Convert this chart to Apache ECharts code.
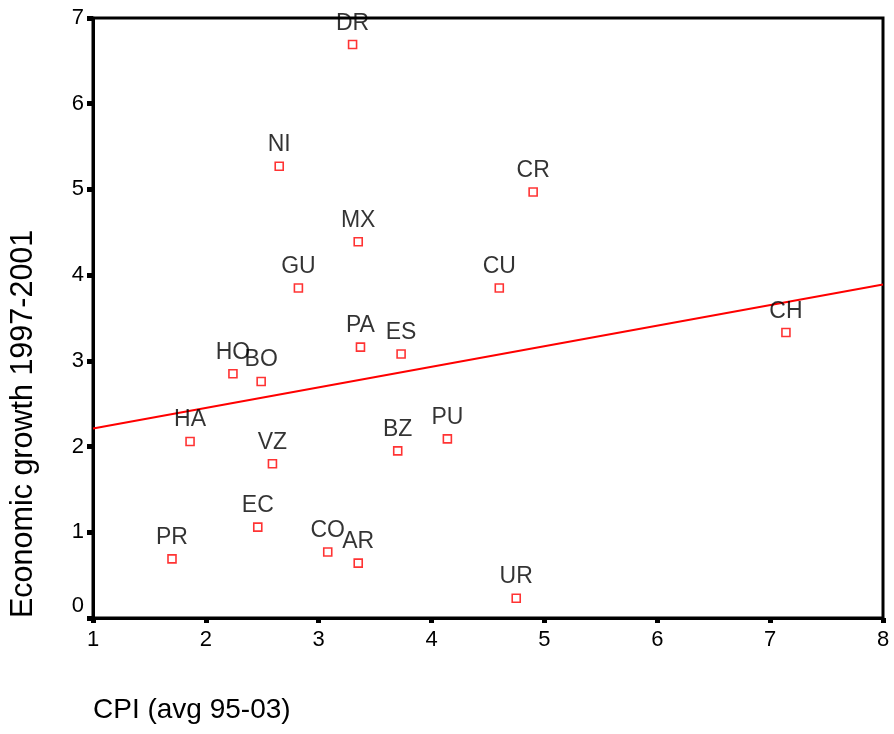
<!DOCTYPE html>
<html>
<head>
<meta charset="utf-8">
<script src="https://cdn.jsdelivr.net/npm/echarts@6/dist/echarts.min.js"></script>
<style>html,body{margin:0;padding:0;background:#fff}#c{width:894px;height:734px}</style>
</head>
<body>
<div id="c"></div>
<script>
var countries = ['DR','NI','CR','MX','GU','CU','CH','PA','ES','HO','BO','HA','PU','BZ','VZ','EC','PR','CO','AR','UR'];
var cpi = [3.30,2.65,4.90,3.35,2.82,4.60,7.14,3.37,3.73,2.24,2.49,1.86,4.14,3.70,2.59,2.46,1.70,3.08,3.35,4.75];
var growth = [6.69,5.27,4.97,4.39,3.85,3.85,3.33,3.16,3.08,2.85,2.76,2.06,2.09,1.95,1.80,1.06,0.69,0.77,0.64,0.23];
var fitX = [1, 8];
var fitY = [2.21, 3.89];
var xTicks = [1,2,3,4,5,6,7,8];
var yTicks = [0,1,2,3,4,5,6,7];
var xTitle = 'CPI (avg 95-03)';
var yTitle = 'Economic growth 1997-2001';

var FONT = '"Liberation Sans", Arial, sans-serif';
var pts = countries.map(function(n,i){ return {name:n, value:[cpi[i], growth[i]]}; });
var fit = fitX.map(function(x,i){ return [x, fitY[i]]; });

var chart = echarts.init(document.getElementById('c'), null, {renderer:'canvas'});
chart.setOption({
  animation:false,
  backgroundColor:'#ffffff',
  grid:{left:93,right:11,top:18,bottom:116,show:true,borderColor:'#000',borderWidth:3,containLabel:false},
  xAxis:{type:'value',min:xTicks[0],max:xTicks[xTicks.length-1],interval:1,
    axisLine:{show:true,onZero:false,lineStyle:{color:'#000',width:3}},
    axisTick:{show:true,length:5,lineStyle:{color:'#000',width:5}},
    axisLabel:{color:'#000',fontSize:22,fontFamily:FONT,margin:11,showMinLabel:true,showMaxLabel:true},
    splitLine:{show:false}},
  yAxis:{type:'value',min:yTicks[0],max:yTicks[yTicks.length-1],interval:1,
    axisLine:{show:true,onZero:false,lineStyle:{color:'#000',width:3}},
    axisTick:{show:true,length:6,lineStyle:{color:'#000',width:5}},
    axisLabel:{color:'#000',fontSize:22,fontFamily:FONT,margin:9,showMinLabel:true,showMaxLabel:true,
      formatter:function(v){ return v===0 ? '{z|0}' : String(v); },
      rich:{z:{fontSize:22,fontFamily:FONT,color:'#000',padding:[0,0,24,0]}}},
    splitLine:{show:false}},
  graphic:[
    {type:'text',left:93,top:696,style:{text:xTitle,fill:'#000',font:'28px '+FONT}},
    {type:'text',x:8,y:618,rotation:Math.PI/2,style:{text:yTitle,fill:'#000',font:'30.5px '+FONT,textAlign:'left',textVerticalAlign:'top'}}
  ],
  series:[
    {type:'line',data:fit,showSymbol:false,silent:true,lineStyle:{color:'#ff0000',width:2},z:1},
    {type:'scatter',data:pts,symbol:'rect',symbolSize:8,z:3,
      itemStyle:{color:'#ffffff',borderColor:'#ff0000',borderWidth:1.6},
      label:{show:true,position:'top',distance:5,formatter:'{b}',color:'#000',fontSize:23,fontFamily:FONT}}
  ]
});
</script>
</body>
</html>
